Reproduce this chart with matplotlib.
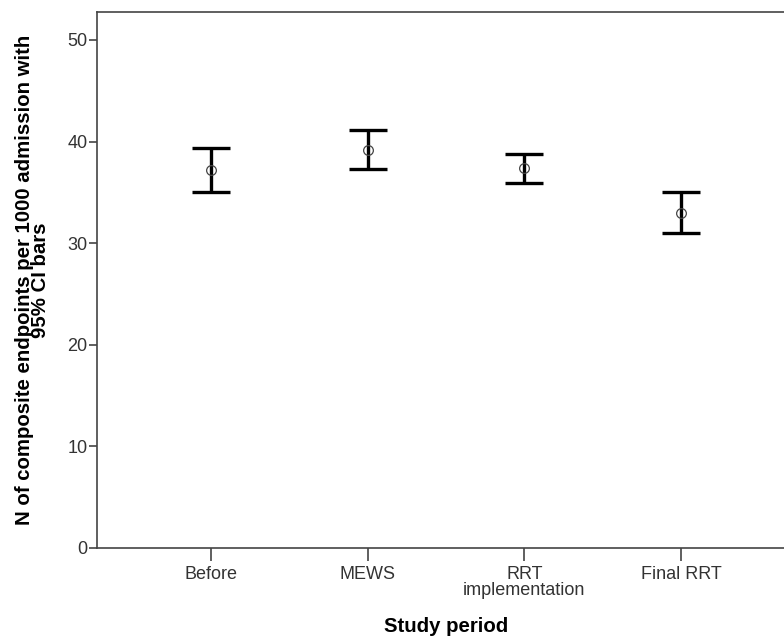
import matplotlib
matplotlib.use("Agg")
import matplotlib.pyplot as plt
import numpy as np

categories = ["Before", "MEWS", "RRT\nimplementation", "Final RRT"]
means = [37.2, 39.2, 37.4, 33.0]
upper = [39.4, 41.1, 38.8, 35.0]
lower = [35.0, 37.3, 35.9, 31.0]

plt.rcParams['font.family'] = ['Liberation Sans', 'DejaVu Sans']

W, H = 784, 638
fig = plt.figure(figsize=(W/100, H/100), dpi=100)
left, right, top, bottom = 97, 795, 12, 548
ax = fig.add_axes([left/W, 1 - bottom/H, (right-left)/W, (bottom-top)/H])

x = np.arange(len(categories))
m = np.array(means)
yerr = np.vstack([m - np.array(lower), np.array(upper) - m])
ax.errorbar(x, m, yerr=yerr, fmt='none', ecolor='black',
            elinewidth=2.4, capsize=14, capthick=2.4)
ax.plot(x, m, 'o', markersize=7, markerfacecolor='none',
        markeredgecolor='#444444', markeredgewidth=0.9)

ax.set_xlim(-0.726, 3.726)
ax.set_ylim(0, 52.75)
ax.set_yticks([0, 10, 20, 30, 40, 50])
ax.set_xticks(x)
ax.set_xticklabels(categories, linespacing=0.95)
for s in ['left', 'bottom', 'top', 'right']:
    ax.spines[s].set_color('#444444')
    ax.spines[s].set_linewidth(1.2)
ax.tick_params(axis='y', length=6, width=1.2, color='#444444', labelsize=13, labelcolor='#333333', pad=1)
ax.tick_params(axis='x', length=9, width=1.2, color='#444444', labelsize=13, labelcolor='#333333', pad=4)
ax.set_ylabel("N of composite endpoints per 1000 admission with\n95% CI bars",
              fontsize=14.7, fontweight='bold', linespacing=0.8, labelpad=12)
ax.set_xlabel("Study period", fontsize=14.7, fontweight='bold', labelpad=13)

fig.savefig("out.png", dpi=100)
